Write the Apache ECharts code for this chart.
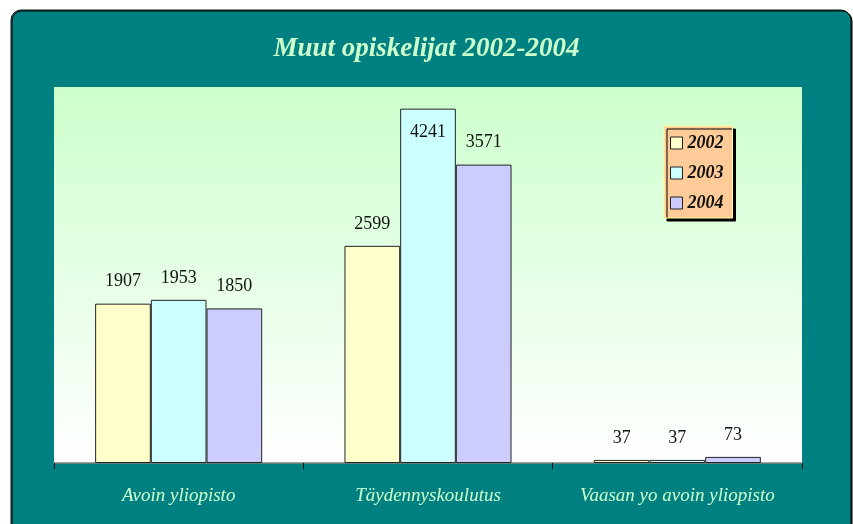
<!DOCTYPE html>
<html><head><meta charset="utf-8">
<script src="https://cdn.jsdelivr.net/npm/echarts@6/dist/echarts.min.js"></script>
<style>html,body{margin:0;padding:0;background:#fff;}#c{width:853px;height:524px;}</style>
</head><body><div id="c"></div>
<script>
var categories = ['Avoin yliopisto', 'Täydennyskoulutus', 'Vaasan yo avoin yliopisto'];
var seriesNames = ['2002', '2003', '2004'];
var values2002 = [1907, 2599, 37];
var values2003 = [1953, 4241, 37];
var values2004 = [1850, 3571, 73];
var barColors = ['#FFFFCC', '#CCFFFF', '#CCCCFF'];
var yMax = 4500;

var FONT = '"Liberation Serif", "DejaVu Serif", serif';
var chart = echarts.init(document.getElementById('c'));

function mkData(vals) {
  return vals.map(function (v) {
    if (v > 4000) {
      return { value: v, label: { position: 'insideTop', distance: 15 } };
    }
    return v;
  });
}
var allVals = [values2002, values2003, values2004];
var series = seriesNames.map(function (n, i) {
  return {
    name: n,
    type: 'bar',
    data: mkData(allVals[i]),
    barGap: '0%',
    barCategoryGap: '33%',
    itemStyle: { color: barColors[i], borderColor: '#222', borderWidth: 1 },
    label: {
      show: true, position: 'top', distance: 13,
      fontFamily: FONT, fontSize: 18, color: '#111'
    }
  };
});

chart.setOption({
  animation: false,
  graphic: [{
    type: 'rect', z: -10, silent: true,
    shape: { x: 11, y: 10, width: 840, height: 540, r: 10 },
    style: { fill: '#008080', stroke: '#111', lineWidth: 1,
      shadowColor: '#000', shadowOffsetX: 1, shadowOffsetY: 1, shadowBlur: 0 }
  }],
  title: {
    text: 'Muut opiskelijat 2002-2004',
    left: 'center', top: 31,
    textStyle: { fontFamily: FONT, fontStyle: 'italic', fontWeight: 'bold',
      fontSize: 27, color: '#CCFFCC' }
  },
  legend: {
    orient: 'vertical', left: 664, top: 126,
    padding: [8, 9, 6, 6],
    itemGap: 12, itemWidth: 12, itemHeight: 12,
    backgroundColor: '#FFCC99', borderColor: '#FFFF99', borderWidth: 1,
    shadowColor: '#000', shadowOffsetX: 3, shadowOffsetY: 3, shadowBlur: 0,
    icon: 'rect',
    itemStyle: { borderColor: '#222', borderWidth: 1 },
    textStyle: { fontFamily: FONT, fontStyle: 'italic', fontWeight: 'bold',
      fontSize: 18, color: '#111', lineHeight: 17, padding: [0, 0, 0, 0] },
    data: seriesNames
  },
  grid: {
    left: 54, right: 51, top: 87, bottom: 61, show: true, borderWidth: 0,
    backgroundColor: new echarts.graphic.LinearGradient(0, 0, 0, 1, [
      { offset: 0, color: '#CCFFCC' }, { offset: 1, color: '#FFFFFF' }])
  },
  xAxis: {
    type: 'category', data: categories,
    axisLine: { lineStyle: { color: '#808080', width: 1.5 } },
    axisTick: { show: true, length: 6, interval: 0, lineStyle: { color: '#111' } },
    axisLabel: { fontFamily: FONT, fontStyle: 'italic', fontSize: 19, interval: 0,
      color: '#CCFFCC', margin: 23 }
  },
  yAxis: {
    type: 'value', min: 0, max: yMax, show: false,
    splitLine: { show: false }
  },
  series: series
});
</script></body></html>
